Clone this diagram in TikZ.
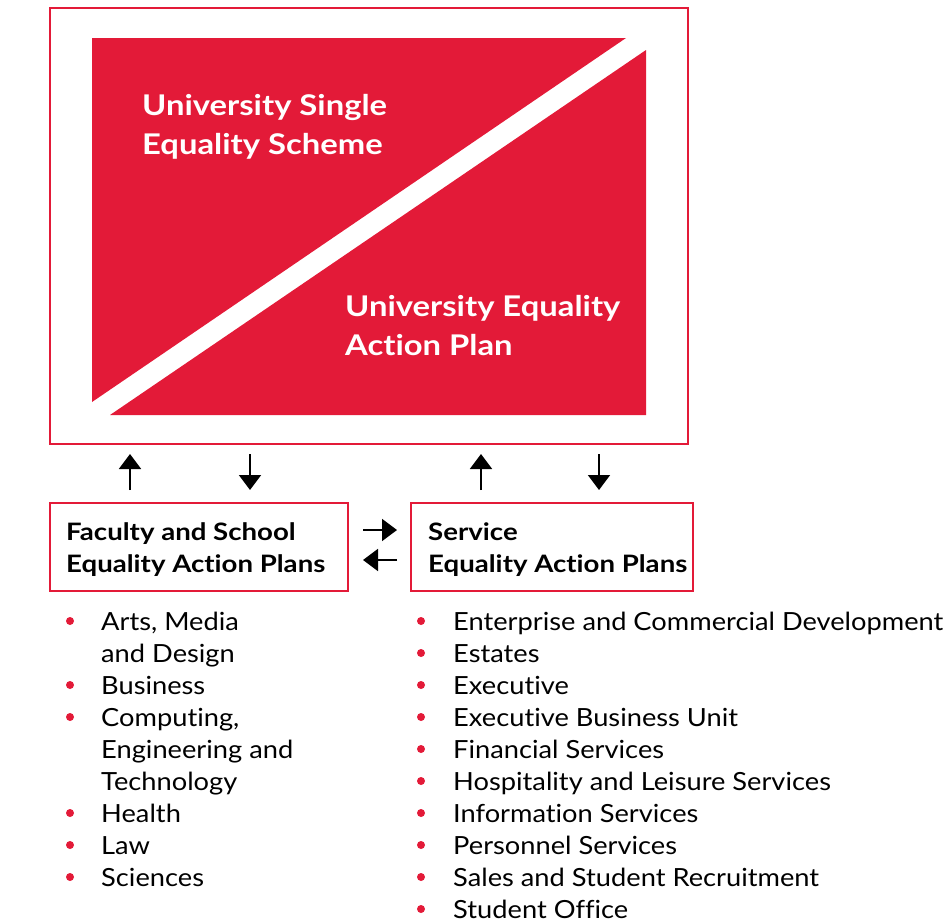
\documentclass[tikz,border=0pt]{standalone}
\usepackage{fontspec}
\setmainfont[Ligatures=NoCommon, FakeStretch=1.09]{Lato}
\newfontfamily\headfont[Ligatures=NoCommon, FakeStretch=1.15]{Lato Bold}
\newfontfamily\boxfont[Ligatures=NoCommon, FakeStretch=1.15]{Lato Bold}
\usetikzlibrary{arrows.meta,calc}

\definecolor{uniRed}{RGB}{227,26,56}

\tikzset{
    plan box/.style={draw=uniRed, line width=2pt, inner sep=0pt, outer sep=0pt},
    plan text/.style={anchor=base west, align=left, inner sep=0pt,
        font=\boxfont\fontsize{24}{32}\selectfont},
    title text/.style={anchor=base west, align=left, inner sep=0pt, text=white,
        font=\headfont\fontsize{28.5}{39}\selectfont},
    item/.style={anchor=base west, inner sep=0pt, font=\fontsize{25}{32}\selectfont},
    flow/.style={line width=1.8pt, -{Triangle[length=15pt,width=22pt]}}
}

\begin{document}
\begin{tikzpicture}[x=1pt, y=-1pt]
    \useasboundingbox (0,0) rectangle (949,922);

    % Outer frame with split red panel
    \node[plan box, minimum width=638pt, minimum height=436pt] (frame) at (369,226) {};
    \fill[uniRed] (92,38) -- (626,38) -- (92,402) -- cycle;
    \fill[uniRed] (646,50) -- (646,415) -- (110,415) -- cycle;
    \node[title text] (scheme) at (142,154) {University Single\\Equality Scheme};
    \node[title text] (uniplan) at (345,355) {University Equality\\Action Plan};

    % Lower plan boxes
    \node[plan box, minimum width=298pt, minimum height=88pt] (fac) at (199,547) {};
    \node[plan box, minimum width=282pt, minimum height=88pt] (ser) at (552,547) {};
    \node[plan text] (factxt) at (66,572) {Faculty and School\\Equality Action Plans};
    \node[plan text] (sertxt) at (428,572) {Service\\Equality Action Plans};

    % Arrows between frame and boxes
    \draw[flow] ($(fac.north west)+(80,-13)$) -- ($(frame.south west)+(80,10)$);
    \draw[flow] ($(frame.south west)+(200,10)$) -- ($(fac.north west)+(200,-13)$);
    \draw[flow] ($(ser.north west)+(70,-13)$) -- ($(frame.south west)+(431,10)$);
    \draw[flow] ($(frame.south west)+(549,10)$) -- ($(ser.north west)+(188,-13)$);
    \draw[flow] ($(fac.north east)+(15,27)$) -- ($(ser.north west)+(-14,27)$);
    \draw[flow] ($(ser.north west)+(-14,57)$) -- ($(fac.north east)+(15,57)$);

    % Faculty list
    \foreach \i/\txt/\dot in {0/{Arts, Media}/1, 1/{and Design}/0, 2/Business/1,
        3/{Computing,}/1, 4/{Engineering and}/0, 5/Technology/0,
        6/Health/1, 7/Law/1, 8/Sciences/1} {
        \node[item] (fl\i) at (101,{630+32*\i}) {\txt};
        \ifnum\dot=1 \fill[uniRed] (70,{621+32*\i}) circle (4pt); \fi
    }

    % Service list
    \foreach \txt [count=\i from 0] in {Enterprise and Commercial Development,
        Estates, Executive, Executive Business Unit, Financial Services,
        Hospitality and Leisure Services, Information Services,
        Personnel Services, Sales and Student Recruitment, Student Office} {
        \node[item] (sl\i) at (453,{630+32*\i}) {\txt};
        \fill[uniRed] (421,{621+32*\i}) circle (4pt);
    }
\end{tikzpicture}
\end{document}
